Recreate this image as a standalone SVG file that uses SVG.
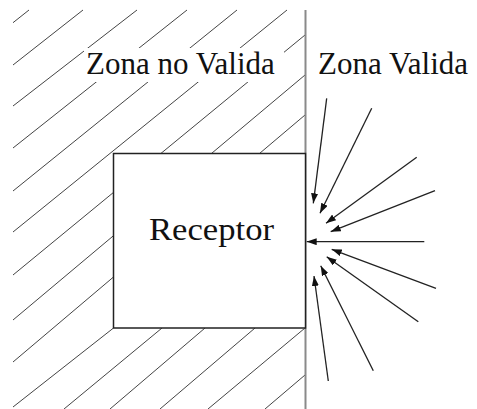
<svg xmlns="http://www.w3.org/2000/svg" width="477" height="409" viewBox="0 0 477 409">
<style>
.hatch{stroke:#444;stroke-width:1;fill:none}
.wall{stroke:#8a8a8a;stroke-width:2;fill:none}
.arr{stroke:#222;stroke-width:1.3;fill:none;marker-end:url(#ah)}
text{font-family:'Liberation Serif','DejaVu Serif',serif;fill:#111}
</style>
<defs>
<marker id="ah" markerUnits="userSpaceOnUse" markerWidth="10" markerHeight="7" refX="10" refY="3.5" orient="auto">
<path d="M0,0 L10,3.5 L0,7 z" fill="#111"/>
</marker>
</defs>
<rect width="477" height="409" fill="#fff"/>
<g id="hatching">
<line class="hatch" x1="13" y1="22.7" x2="29" y2="10"/>
<line class="hatch" x1="13" y1="65" x2="83" y2="10"/>
<line class="hatch" x1="13" y1="106" x2="137" y2="10"/>
<line class="hatch" x1="13" y1="148" x2="187" y2="10"/>
<line class="hatch" x1="13" y1="191" x2="237" y2="10"/>
<line class="hatch" x1="13" y1="232" x2="287" y2="10"/>
<line class="hatch" x1="13" y1="275" x2="305" y2="35"/>
<line class="hatch" x1="13" y1="320" x2="305" y2="75"/>
<line class="hatch" x1="13" y1="362" x2="305" y2="115"/>
<line class="hatch" x1="13" y1="407" x2="113.5" y2="328"/>
<line class="hatch" x1="64" y1="409" x2="162" y2="328"/>
<line class="hatch" x1="110" y1="409" x2="205" y2="328"/>
<line class="hatch" x1="160" y1="409" x2="255" y2="328"/>
<line class="hatch" x1="208" y1="409" x2="305" y2="328"/>
<line class="hatch" x1="265" y1="409" x2="305" y2="375"/>
</g>
<g id="wall">
<line class="wall" x1="305.5" y1="10" x2="305.5" y2="409"/>
</g>
<g id="zona-no-valida">
<rect x="84" y="48" width="200" height="34" fill="#fff"/>
<text x="86" y="74" font-family="Liberation Serif, DejaVu Serif, serif" font-size="31">Zona no Valida</text>
</g>
<g id="zona-valida">
<text x="318" y="73.5" font-family="Liberation Serif, DejaVu Serif, serif" font-size="31">Zona Valida</text>
</g>
<g id="receptor">
<rect x="113.5" y="153.5" width="192" height="174.5" fill="#fff" stroke="#222" stroke-width="1.5"/>
<text x="149" y="240" font-family="Liberation Serif, DejaVu Serif, serif" font-size="32" textLength="125" lengthAdjust="spacingAndGlyphs">Receptor</text>
</g>
<g id="connectors">
<line class="arr" x1="326.7" y1="98.3" x2="313.3" y2="203.3"/>
<line class="arr" x1="371.7" y1="108.3" x2="320" y2="213.3"/>
<line class="arr" x1="416.7" y1="157.3" x2="326" y2="223.3"/>
<line class="arr" x1="435" y1="190.7" x2="330.7" y2="231.7"/>
<line class="arr" x1="424.3" y1="241.7" x2="306.7" y2="241.7"/>
<line class="arr" x1="436" y1="288.3" x2="331.7" y2="249.3"/>
<line class="arr" x1="418.3" y1="321.7" x2="326.7" y2="256.7"/>
<line class="arr" x1="373.3" y1="370.7" x2="320.7" y2="265.7"/>
<line class="arr" x1="328.3" y1="381" x2="314" y2="276"/>
</g>
</svg>
